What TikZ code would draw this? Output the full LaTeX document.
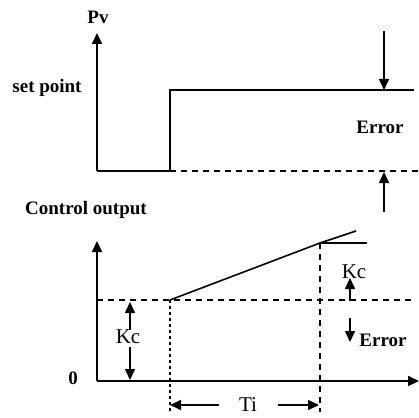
\documentclass[tikz,border=0pt]{standalone}
\usepackage{fontspec}
\setmainfont{Liberation Serif}
\usetikzlibrary{arrows.meta}
\begin{document}
\begin{tikzpicture}[x=1pt,y=-1pt,
  axis/.style={line width=2pt},
  trace/.style={line width=1.6pt},
  dashln/.style={line width=1.5pt,dash pattern=on 6pt off 5pt},
  dotln/.style={line width=1.5pt,dash pattern=on 3pt off 3pt},
  arr/.style={line width=1.6pt,-{Triangle[length=11pt,width=10pt]}},
  lbl/.style={font=\bfseries\fontsize{19}{19}\selectfont,inner sep=0pt},
  lblr/.style={font=\fontsize{21}{21}\selectfont,inner sep=0pt}]
\useasboundingbox (0,0) rectangle (419,417);
% top plot
\coordinate (O1) at (97,171);
\coordinate (Y1) at (97,33);
\coordinate (S1) at (170,171);
\coordinate (S2) at (170,90);
\coordinate (S3) at (414,90);
\coordinate (D1) at (419,171);
\coordinate (EA1) at (384,31);
\coordinate (EA2) at (384,90);
\coordinate (EB1) at (384,212);
\coordinate (EB2) at (384,172);
\draw[axis,-{Triangle[length=11pt,width=10pt]}] (O1) -- (Y1);
\draw[axis] (O1) -- (S1) -- (S2) -- (S3);
\draw[dashln] (S1) -- (D1);
\draw[arr] (EA1) -- (EA2);
\draw[arr] (EB1) -- (EB2);
\node[lbl] (pv) at (98,17) {Pv};
\node[lbl] (sp) at (47,88) {set point};
\node[lbl] (err1) at (380,127) {Error};
\node[lbl] (co) at (86,210) {Control output};
% bottom plot
\coordinate (O2) at (97,381);
\coordinate (Y2) at (97,241);
\coordinate (X2) at (419,381);
\coordinate (H0) at (97,300);
\coordinate (H1) at (413,300);
\coordinate (R0) at (170,300);
\coordinate (R1) at (320,243);
\coordinate (R2) at (356,231);
\coordinate (R3) at (367,243);
\coordinate (V0) at (170,412);
\coordinate (V1) at (320,412);
\draw[axis,-{Triangle[length=11pt,width=10pt]}] (O2) -- (Y2);
\draw[axis,-{Triangle[length=11pt,width=10pt]}] (O2) -- (X2);
\draw[dashln] (H0) -- (H1);
\draw[trace] (R0) -- (R1) -- (R2);
\draw[trace] (R1) -- (R3);
\draw[dotln] (R0) -- (V0);
\draw[dashln] (R1) -- (V1);
% Kc
\coordinate (K1a) at (130,330);
\coordinate (K1b) at (130,302);
\coordinate (K2a) at (130,347);
\coordinate (K2b) at (130,380);
\draw[arr] (K1a) -- (K1b);
\draw[arr] (K2a) -- (K2b);
\node[lblr] (kc) at (128,337) {Kc};
\node[lbl] (zero) at (73,378) {0};
% Kc' and error
\coordinate (K3a) at (350,301);
\coordinate (K3b) at (350,278);
\coordinate (K4a) at (350,318);
\coordinate (K4b) at (350,342);
\draw[arr] (K3a) -- (K3b);
\draw[arr] (K4a) -- (K4b);
\node[lblr] (kc2) at (354,272) {Kc};
\node[lbl] (err2) at (383,340) {Error};
% Ti
\coordinate (T1a) at (219,405);
\coordinate (T1b) at (170,405);
\coordinate (T2a) at (278,405);
\coordinate (T2b) at (319,405);
\draw[arr] (T1a) -- (T1b);
\draw[arr] (T2a) -- (T2b);
\node[lblr] (ti) at (248,405) {Ti};
\end{tikzpicture}
\end{document}
